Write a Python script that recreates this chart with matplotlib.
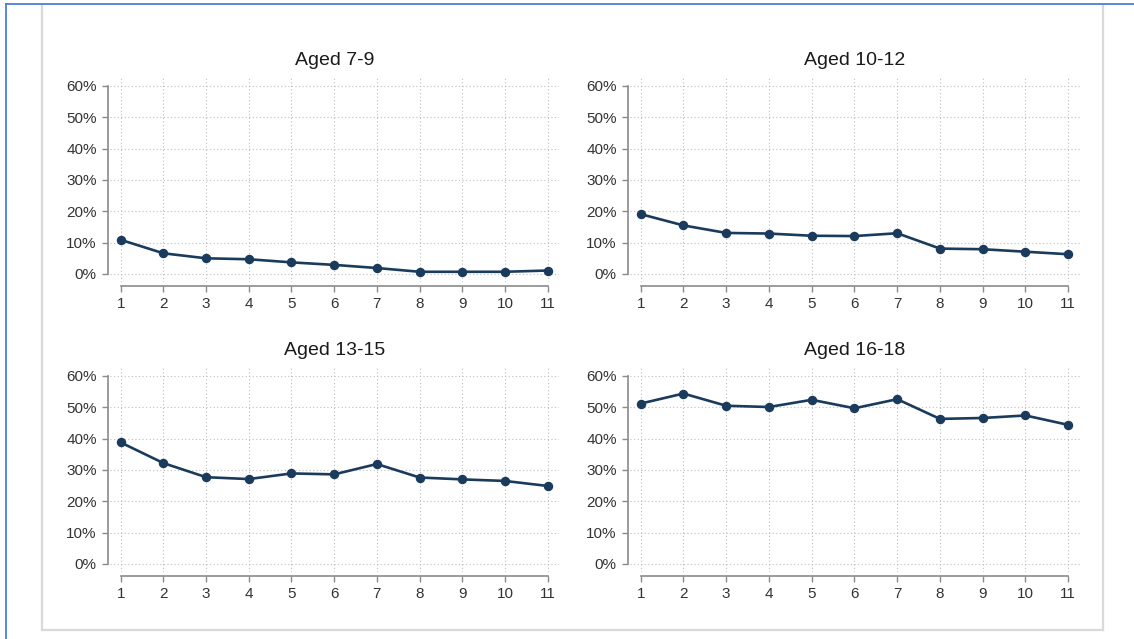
import matplotlib
matplotlib.use("Agg")
import matplotlib.pyplot as plt
from matplotlib.lines import Line2D
from matplotlib.ticker import FuncFormatter

plt.rcParams['font.family'] = ['Liberation Sans', 'DejaVu Sans']

waves = [1, 2, 3, 4, 5, 6, 7, 8, 9, 10, 11]
titles = ["Aged 7-9", "Aged 10-12", "Aged 13-15", "Aged 16-18"]
aged_7_9 = [10.9, 6.6, 5.0, 4.7, 3.7, 2.9, 1.9, 0.7, 0.7, 0.7, 1.1]
aged_10_12 = [19.1, 15.5, 13.1, 12.9, 12.2, 12.1, 13.0, 8.1, 7.9, 7.1, 6.3]
aged_13_15 = [38.8, 32.2, 27.7, 27.1, 28.9, 28.6, 31.9, 27.6, 27.0, 26.5, 24.9]
aged_16_18 = [51.2, 54.4, 50.5, 50.1, 52.4, 49.7, 52.6, 46.3, 46.6, 47.4, 44.4]
series = [aged_7_9, aged_10_12, aged_13_15, aged_16_18]
yticks = [0, 10, 20, 30, 40, 50, 60]

W, H = 1134, 639
fig = plt.figure(figsize=(W / 100, H / 100), dpi=100)
fig.patch.set_facecolor('white')

# panel border and screenshot frame
gray = '#d9d9d9'
fig.add_artist(Line2D([42 / W, 42 / W], [1 - 5 / H, 1 - 630 / H], color=gray, lw=1.6, transform=fig.transFigure))
fig.add_artist(Line2D([1103 / W, 1103 / W], [1 - 5 / H, 1 - 630 / H], color=gray, lw=1.6, transform=fig.transFigure))
fig.add_artist(Line2D([42 / W, 1103 / W], [1 - 630 / H, 1 - 630 / H], color=gray, lw=1.6, transform=fig.transFigure))
blue = '#4a7fd6'
fig.add_artist(Line2D([6 / W, 1.0], [1 - 4 / H, 1 - 4 / H], color=blue, lw=1.3, transform=fig.transFigure))
fig.add_artist(Line2D([6 / W, 6 / W], [1 - 4 / H, 0.0], color=blue, lw=1.3, transform=fig.transFigure))

# axes positions in pixels: left, top, right, bottom
boxes = [
    (110, 76.6, 559.2, 281.8),
    (630, 76.6, 1079.8, 281.8),
    (110, 366.6, 559.2, 571.8),
    (630, 366.6, 1079.8, 571.8),
]

line_color = '#1b3b5c'
text_color = '#333333'
axis_color = '#8a8a8a'

for (l, t, r, b), title, vals in zip(boxes, titles, series):
    ax = fig.add_axes([l / W, 1 - b / H, (r - l) / W, (b - t) / H])
    ax.set_facecolor('none')
    ax.plot(waves, vals, color=line_color, lw=1.9, marker='o', markersize=5.8,
            markerfacecolor=line_color, markeredgecolor=line_color, zorder=3)
    ax.set_xlim(0.75, 11.27)
    ax.set_ylim(-2.5, 63)
    ax.set_xticks(waves)
    ax.set_yticks(yticks)
    ax.yaxis.set_major_formatter(FuncFormatter(lambda v, p: f"{int(v)}%"))
    ax.grid(True, linestyle=(0, (1, 2.2)), color='#bdbdbd', lw=0.8)
    ax.set_axisbelow(True)
    for s in ['top', 'right']:
        ax.spines[s].set_visible(False)
    ax.spines['left'].set_position(('outward', 1.5))
    ax.spines['bottom'].set_position(('outward', 3))
    ax.spines['left'].set_bounds(0, 60)
    ax.spines['bottom'].set_bounds(1, 11)
    for s in ['left', 'bottom']:
        ax.spines[s].set_color(axis_color)
        ax.spines[s].set_linewidth(1.2)
    ax.tick_params(axis='both', colors=axis_color, labelcolor=text_color,
                   labelsize=11, length=4, width=1.0, pad=4)
    ax.set_title(title, fontsize=14, color='#1a1a1a', pad=8)

fig.savefig('out.png', dpi=100)
